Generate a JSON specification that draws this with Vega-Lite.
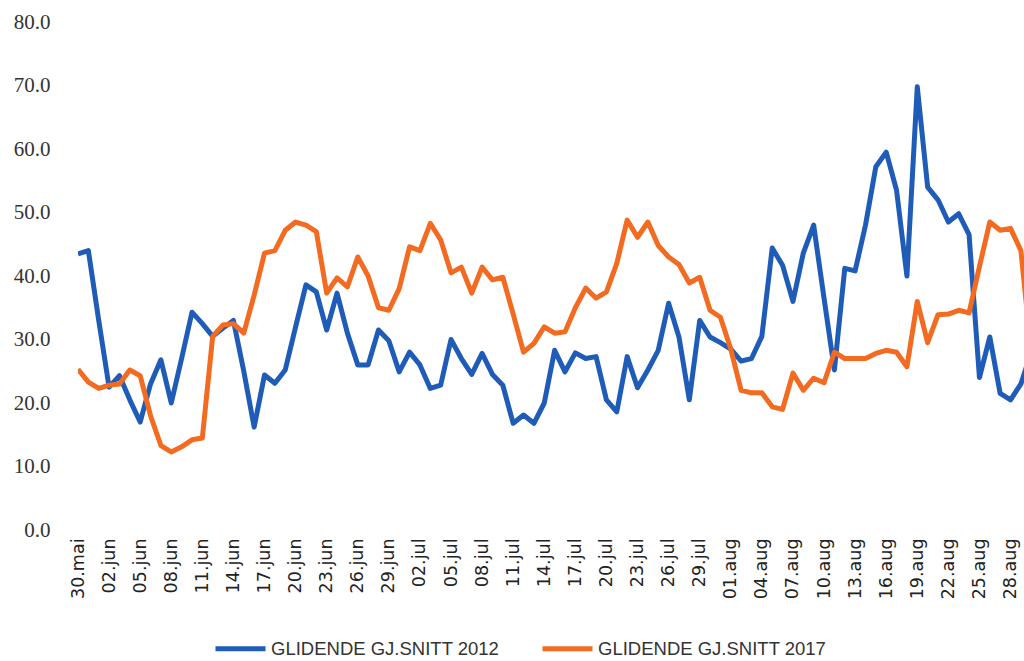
{
  "$schema": "https://vega.github.io/schema/vega-lite/v6.json",
  "width": 946,
  "height": 508,
  "autosize": {"type": "none"},
  "padding": {"left": 78, "top": 22, "right": 0, "bottom": 131},
  "background": "white",
  "config": {"view": {"stroke": null}},
  "data": {"values": [
    {"dato": "2017-05-30", "v2012": 43.5, "v2017": 25.3},
    {"dato": "2017-05-31", "v2012": 44.0, "v2017": 23.3},
    {"dato": "2017-06-01", "v2012": 33.0, "v2017": 22.3},
    {"dato": "2017-06-02", "v2012": 22.5, "v2017": 22.8},
    {"dato": "2017-06-03", "v2012": 24.3, "v2017": 23.0},
    {"dato": "2017-06-04", "v2012": 20.5, "v2017": 25.2},
    {"dato": "2017-06-05", "v2012": 17.0, "v2017": 24.3},
    {"dato": "2017-06-06", "v2012": 23.0, "v2017": 18.0},
    {"dato": "2017-06-07", "v2012": 26.8, "v2017": 13.3},
    {"dato": "2017-06-08", "v2012": 20.0, "v2017": 12.3},
    {"dato": "2017-06-09", "v2012": 27.0, "v2017": 13.1},
    {"dato": "2017-06-10", "v2012": 34.3, "v2017": 14.2},
    {"dato": "2017-06-11", "v2012": 32.5, "v2017": 14.5},
    {"dato": "2017-06-12", "v2012": 30.5, "v2017": 30.5},
    {"dato": "2017-06-13", "v2012": 31.8, "v2017": 32.3},
    {"dato": "2017-06-14", "v2012": 33.0, "v2017": 32.5},
    {"dato": "2017-06-15", "v2012": 25.0, "v2017": 31.0},
    {"dato": "2017-06-16", "v2012": 16.2, "v2017": 37.0},
    {"dato": "2017-06-17", "v2012": 24.4, "v2017": 43.6},
    {"dato": "2017-06-18", "v2012": 23.1, "v2017": 44.0},
    {"dato": "2017-06-19", "v2012": 25.2, "v2017": 47.2},
    {"dato": "2017-06-20", "v2012": 32.0, "v2017": 48.5},
    {"dato": "2017-06-21", "v2012": 38.6, "v2017": 48.0},
    {"dato": "2017-06-22", "v2012": 37.5, "v2017": 47.0},
    {"dato": "2017-06-23", "v2012": 31.5, "v2017": 37.3},
    {"dato": "2017-06-24", "v2012": 37.3, "v2017": 39.7},
    {"dato": "2017-06-25", "v2012": 31.0, "v2017": 38.3},
    {"dato": "2017-06-26", "v2012": 26.0, "v2017": 43.0},
    {"dato": "2017-06-27", "v2012": 26.0, "v2017": 40.0},
    {"dato": "2017-06-28", "v2012": 31.5, "v2017": 35.0},
    {"dato": "2017-06-29", "v2012": 29.8, "v2017": 34.6},
    {"dato": "2017-06-30", "v2012": 24.9, "v2017": 38.0},
    {"dato": "2017-07-01", "v2012": 28.0, "v2017": 44.6},
    {"dato": "2017-07-02", "v2012": 26.0, "v2017": 44.0},
    {"dato": "2017-07-03", "v2012": 22.3, "v2017": 48.3},
    {"dato": "2017-07-04", "v2012": 22.8, "v2017": 45.7},
    {"dato": "2017-07-05", "v2012": 30.0, "v2017": 40.5},
    {"dato": "2017-07-06", "v2012": 27.0, "v2017": 41.4},
    {"dato": "2017-07-07", "v2012": 24.5, "v2017": 37.3},
    {"dato": "2017-07-08", "v2012": 27.8, "v2017": 41.4},
    {"dato": "2017-07-09", "v2012": 24.5, "v2017": 39.4},
    {"dato": "2017-07-10", "v2012": 22.8, "v2017": 39.8},
    {"dato": "2017-07-11", "v2012": 16.8, "v2017": 34.0},
    {"dato": "2017-07-12", "v2012": 18.1, "v2017": 28.0},
    {"dato": "2017-07-13", "v2012": 16.8, "v2017": 29.4},
    {"dato": "2017-07-14", "v2012": 20.0, "v2017": 32.0},
    {"dato": "2017-07-15", "v2012": 28.3, "v2017": 31.0},
    {"dato": "2017-07-16", "v2012": 24.9, "v2017": 31.2},
    {"dato": "2017-07-17", "v2012": 27.9, "v2017": 35.0},
    {"dato": "2017-07-18", "v2012": 27.0, "v2017": 38.1},
    {"dato": "2017-07-19", "v2012": 27.3, "v2017": 36.5},
    {"dato": "2017-07-20", "v2012": 20.5, "v2017": 37.5},
    {"dato": "2017-07-21", "v2012": 18.6, "v2017": 42.0},
    {"dato": "2017-07-22", "v2012": 27.3, "v2017": 48.8},
    {"dato": "2017-07-23", "v2012": 22.4, "v2017": 46.1},
    {"dato": "2017-07-24", "v2012": 25.2, "v2017": 48.5},
    {"dato": "2017-07-25", "v2012": 28.3, "v2017": 44.8},
    {"dato": "2017-07-26", "v2012": 35.7, "v2017": 43.0},
    {"dato": "2017-07-27", "v2012": 30.4, "v2017": 41.8},
    {"dato": "2017-07-28", "v2012": 20.5, "v2017": 38.9},
    {"dato": "2017-07-29", "v2012": 33.0, "v2017": 39.8},
    {"dato": "2017-07-30", "v2012": 30.4, "v2017": 34.6},
    {"dato": "2017-07-31", "v2012": 29.5, "v2017": 33.5},
    {"dato": "2017-08-01", "v2012": 28.5, "v2017": 28.5},
    {"dato": "2017-08-02", "v2012": 26.6, "v2017": 22.0},
    {"dato": "2017-08-03", "v2012": 27.0, "v2017": 21.6},
    {"dato": "2017-08-04", "v2012": 30.5, "v2017": 21.6},
    {"dato": "2017-08-05", "v2012": 44.4, "v2017": 19.4},
    {"dato": "2017-08-06", "v2012": 41.7, "v2017": 19.0},
    {"dato": "2017-08-07", "v2012": 36.0, "v2017": 24.7},
    {"dato": "2017-08-08", "v2012": 43.6, "v2017": 22.0},
    {"dato": "2017-08-09", "v2012": 48.0, "v2017": 23.9},
    {"dato": "2017-08-10", "v2012": 36.5, "v2017": 23.2},
    {"dato": "2017-08-11", "v2012": 25.2, "v2017": 28.0},
    {"dato": "2017-08-12", "v2012": 41.2, "v2017": 27.0},
    {"dato": "2017-08-13", "v2012": 40.8, "v2017": 27.0},
    {"dato": "2017-08-14", "v2012": 48.0, "v2017": 27.0},
    {"dato": "2017-08-15", "v2012": 57.2, "v2017": 27.8},
    {"dato": "2017-08-16", "v2012": 59.5, "v2017": 28.3},
    {"dato": "2017-08-17", "v2012": 53.5, "v2017": 28.0},
    {"dato": "2017-08-18", "v2012": 40.0, "v2017": 25.7},
    {"dato": "2017-08-19", "v2012": 69.8, "v2017": 36.0},
    {"dato": "2017-08-20", "v2012": 54.0, "v2017": 29.5},
    {"dato": "2017-08-21", "v2012": 52.0, "v2017": 33.9},
    {"dato": "2017-08-22", "v2012": 48.5, "v2017": 34.0},
    {"dato": "2017-08-23", "v2012": 49.8, "v2017": 34.6},
    {"dato": "2017-08-24", "v2012": 46.5, "v2017": 34.2},
    {"dato": "2017-08-25", "v2012": 24.0, "v2017": 41.5},
    {"dato": "2017-08-26", "v2012": 30.4, "v2017": 48.5},
    {"dato": "2017-08-27", "v2012": 21.5, "v2017": 47.2},
    {"dato": "2017-08-28", "v2012": 20.5, "v2017": 47.5},
    {"dato": "2017-08-29", "v2012": 23.0, "v2017": 44.0},
    {"dato": "2017-08-30", "v2012": 28.0, "v2017": 28.0}
  ]},
  "transform": [
    {"fold": ["v2012", "v2017"], "as": ["serie", "verdi"]}
  ],
  "mark": {"type": "line", "clip": true, "strokeWidth": 5, "strokeJoin": "round"},
  "encoding": {
    "x": {
      "field": "dato",
      "type": "temporal",
      "scale": {"type": "utc", "domain": [1496102400000, 1503990720000], "nice": false},
      "axis": {
        "title": null,
        "values": [1496102400000, 1496361600000, 1496620800000, 1496880000000, 1497139200000, 1497398400000, 1497657600000, 1497916800000, 1498176000000, 1498435200000, 1498694400000, 1498953600000, 1499212800000, 1499472000000, 1499731200000, 1499990400000, 1500249600000, 1500508800000, 1500768000000, 1501027200000, 1501286400000, 1501545600000, 1501804800000, 1502064000000, 1502323200000, 1502582400000, 1502841600000, 1503100800000, 1503360000000, 1503619200000, 1503878400000],
        "labelExpr": "utcFormat(datum.value, '%d') + '.' + (utcmonth(datum.value) == 4 ? 'mai' : utcmonth(datum.value) == 5 ? 'jun' : utcmonth(datum.value) == 6 ? 'jul' : 'aug')",
        "labelAngle": 270,
        "labelAlign": "right",
        "labelBaseline": "middle",
        "labelFont": "DejaVu Sans",
        "labelFontSize": 17.5,
        "labelColor": "#222222",
        "labelPadding": 8,
        "labelOverlap": false,
        "labelFlush": false,
        "labelBound": false,
        "domain": false,
        "ticks": false,
        "grid": false
      }
    },
    "y": {
      "field": "verdi",
      "type": "quantitative",
      "scale": {"domain": [0, 80], "nice": false},
      "axis": {
        "title": null,
        "values": [0, 10, 20, 30, 40, 50, 60, 70, 80],
        "format": ".1f",
        "labelFont": "Liberation Serif",
        "labelFontSize": 21,
        "labelColor": "#333333",
        "labelPadding": 28,
        "domain": false,
        "ticks": false,
        "grid": false
      }
    },
    "color": {
      "field": "serie",
      "type": "nominal",
      "scale": {"domain": ["v2012", "v2017"], "range": ["#1f5cb8", "#f26b21"]},
      "legend": {
        "title": null,
        "orient": "none",
        "direction": "horizontal",
        "legendX": 135,
        "legendY": 599,
        "offset": 0,
        "padding": 0,
        "symbolType": "stroke",
        "symbolSize": 2500,
        "symbolStrokeWidth": 5,
        "labelExpr": "datum.label == 'v2012' ? 'GLIDENDE GJ.SNITT 2012' : 'GLIDENDE GJ.SNITT 2017'",
        "labelFont": "Liberation Sans",
        "labelFontSize": 18.5,
        "labelColor": "#333333",
        "labelOffset": 3,
        "columnPadding": 32,
        "labelLimit": 400
      }
    }
  }
}
